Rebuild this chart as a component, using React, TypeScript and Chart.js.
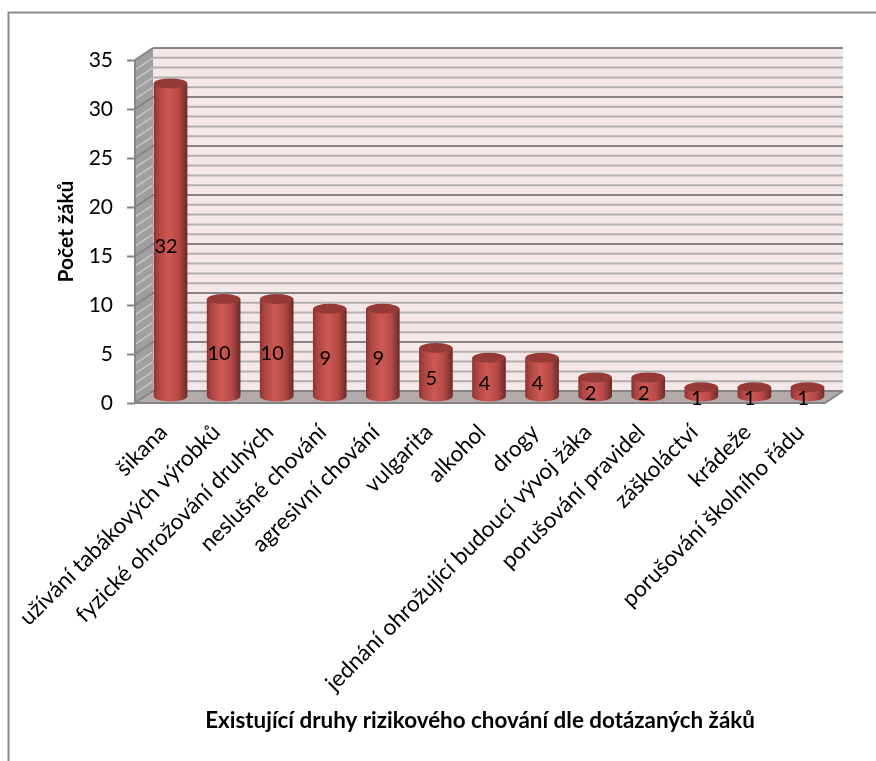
import React, { useEffect, useRef } from "react";
import { Chart, registerables } from "chart.js";

Chart.register(...registerables);

const categories = [
  "šikana",
  "užívání tabákových výrobků",
  "fyzické ohrožování druhých",
  "neslušné chování",
  "agresivní chování",
  "vulgarita",
  "alkohol",
  "drogy",
  "jednání ohrožující budoucí vývoj žáka",
  "porušování pravidel",
  "záškoláctví",
  "krádeže",
  "porušování školního řádu",
];
const counts = [32, 10, 10, 9, 9, 5, 4, 4, 2, 2, 1, 1, 1];
const minorGridValues = Array.from({ length: 36 }, (_, i) => i);

const FONT = "Lato, Carlito, sans-serif";
const DEPTH_X = 18;
const DEPTH_Y = -12;
const BAR_WIDTH = 33;
const CAP_RY = 5;

// Horizontal shading that gives each bar its round look.
function cylinderGradient(c: CanvasRenderingContext2D, cx: number) {
  const g = c.createLinearGradient(cx - BAR_WIDTH / 2, 0, cx + BAR_WIDTH / 2, 0);
  g.addColorStop(0, "#8a3533");
  g.addColorStop(0.12, "#ab4441");
  g.addColorStop(0.45, "#cf5854");
  g.addColorStop(0.75, "#b54946");
  g.addColorStop(1, "#6f2b29");
  return g;
}

// Back wall, side wall and floor of the 3D box, with grid lines from the value scale.
const boxPlugin = {
  id: "box3d",
  beforeDraw(chart: any) {
    const { ctx, width, height } = chart;
    ctx.save();
    ctx.fillStyle = "#ffffff";
    ctx.fillRect(0, 0, width, height);
    ctx.strokeStyle = "#8c8c8c";
    ctx.lineWidth = 2;
    ctx.beginPath();
    ctx.moveTo(8.5, height);
    ctx.lineTo(8.5, 12.5);
    ctx.lineTo(width, 12.5);
    ctx.stroke();
    ctx.restore();
  },
  beforeDatasetsDraw(chart: any) {
    const { ctx, chartArea, scales } = chart;
    const { left, right } = chartArea;
    const y = scales.y;
    const top = y.getPixelForValue(35);
    const bottom = y.getPixelForValue(0);
    ctx.save();

    ctx.fillStyle = "#f5e8e8";
    ctx.fillRect(left + DEPTH_X, top + DEPTH_Y, right - left, bottom - top);

    ctx.fillStyle = "#a09e9e";
    ctx.beginPath();
    ctx.moveTo(left, top);
    ctx.lineTo(left + DEPTH_X, top + DEPTH_Y);
    ctx.lineTo(left + DEPTH_X, bottom + DEPTH_Y);
    ctx.lineTo(left, bottom);
    ctx.closePath();
    ctx.fill();

    ctx.fillStyle = "#b3aaaa";
    ctx.beginPath();
    ctx.moveTo(left, bottom);
    ctx.lineTo(left + DEPTH_X, bottom + DEPTH_Y);
    ctx.lineTo(right + DEPTH_X, bottom + DEPTH_Y);
    ctx.lineTo(right, bottom);
    ctx.closePath();
    ctx.fill();

    for (const v of minorGridValues) {
      const py = y.getPixelForValue(v);
      const major = v % 5 === 0;
      ctx.lineWidth = 2;
      ctx.strokeStyle = major ? "#868484" : "#b2afaf";
      ctx.beginPath();
      ctx.moveTo(left + DEPTH_X, py + DEPTH_Y);
      ctx.lineTo(right + DEPTH_X, py + DEPTH_Y);
      ctx.stroke();
      ctx.strokeStyle = major ? "#868484" : "#c6c4c4";
      ctx.lineWidth = major ? 2 : 1.5;
      ctx.beginPath();
      ctx.moveTo(left, py);
      ctx.lineTo(left + DEPTH_X, py + DEPTH_Y);
      ctx.stroke();
    }

    // Box outline on the front edges.
    ctx.strokeStyle = "#868484";
    ctx.lineWidth = 2;
    ctx.beginPath();
    ctx.moveTo(left, top);
    ctx.lineTo(left, bottom);
    ctx.lineTo(right, bottom);
    ctx.lineTo(right + DEPTH_X, bottom + DEPTH_Y);
    ctx.stroke();

    // Bars stand halfway into the box.
    ctx.translate(DEPTH_X / 2, DEPTH_Y / 2);
    const bars = chart.getDatasetMeta(0).data;
    bars.forEach((bar: any) => {
      ctx.fillStyle = cylinderGradient(ctx, bar.x);
      ctx.beginPath();
      ctx.ellipse(bar.x, bar.base, BAR_WIDTH / 2, CAP_RY, 0, 0, Math.PI * 2);
      ctx.fill();
    });
    // Balanced by the restore in afterDatasetsDraw.
  },
  afterDatasetsDraw(chart: any) {
    const { ctx, scales } = chart;
    const bars = chart.getDatasetMeta(0).data;
    bars.forEach((bar: any) => {
      ctx.fillStyle = "#963a38";
      ctx.beginPath();
      ctx.ellipse(bar.x, bar.y, BAR_WIDTH / 2, CAP_RY, 0, 0, Math.PI * 2);
      ctx.fill();
    });
    ctx.restore();

    // Value labels sit on the front plane, halfway up each bar.
    ctx.save();
    ctx.fillStyle = "#000000";
    ctx.font = `20px ${FONT}`;
    ctx.textAlign = "center";
    ctx.textBaseline = "middle";
    bars.forEach((bar: any, i: number) => {
      ctx.fillText(String(counts[i]), bar.x + 4.5, scales.y.getPixelForValue(counts[i] / 2));
    });
    ctx.restore();
  },
};

export default function App() {
  const ref = useRef<HTMLCanvasElement>(null);

  useEffect(() => {
    const chart = new Chart(ref.current as HTMLCanvasElement, {
      type: "bar",
      plugins: [boxPlugin],
      data: {
        labels: categories,
        datasets: [
          {
            data: counts,
            barThickness: BAR_WIDTH,
            clip: false,
            borderWidth: 0,
            backgroundColor: (c: any) => {
              const x = c.chart.scales?.x;
              if (!x || !c.chart.chartArea) return "#c0504d";
              return cylinderGradient(c.chart.ctx, x.getPixelForValue(c.dataIndex));
            },
          },
        ],
      },
      options: {
        responsive: false,
        animation: false,
        layout: { padding: { top: 60, right: 51, left: 0, bottom: 0 } },
        plugins: { legend: { display: false }, tooltip: { enabled: false } },
        scales: {
          x: {
            afterFit: (s: any) => {
              s.height = 358;
            },
            border: { display: false },
            grid: { drawOnChartArea: false, drawTicks: false },
            ticks: {
              minRotation: 45,
              maxRotation: 45,
              autoSkip: false,
              padding: 16,
              labelOffset: 2,
              color: "#000000",
              font: { family: FONT, size: 22.5 },
            },
            title: {
              display: true,
              text: "Existující druhy rizikového chování dle dotázaných žáků",
              color: "#000000",
              font: { family: FONT, size: 22.4, weight: "bold" },
              padding: { top: 0, bottom: 27 },
            },
          },
          y: {
            min: 0,
            max: 35,
            afterFit: (s: any) => {
              s.width = 135;
            },
            border: { display: false },
            grid: { drawOnChartArea: false, drawTicks: true, tickLength: 8, tickColor: "#868484", tickWidth: 2 },
            ticks: {
              stepSize: 5,
              padding: 14,
              color: "#000000",
              font: { family: FONT, size: 21 },
            },
            title: {
              display: true,
              text: "Počet žáků",
              color: "#000000",
              font: { family: FONT, size: 21, weight: "bold" },
              padding: { top: 54, bottom: 0 },
            },
          },
        },
      },
    } as any);
    return () => chart.destroy();
  }, []);

  return (
    <div style={{ position: "absolute", left: 0, top: 0, width: 876, height: 761 }}>
      <canvas ref={ref} width={876} height={761} style={{ display: "block" }} />
    </div>
  );
}
